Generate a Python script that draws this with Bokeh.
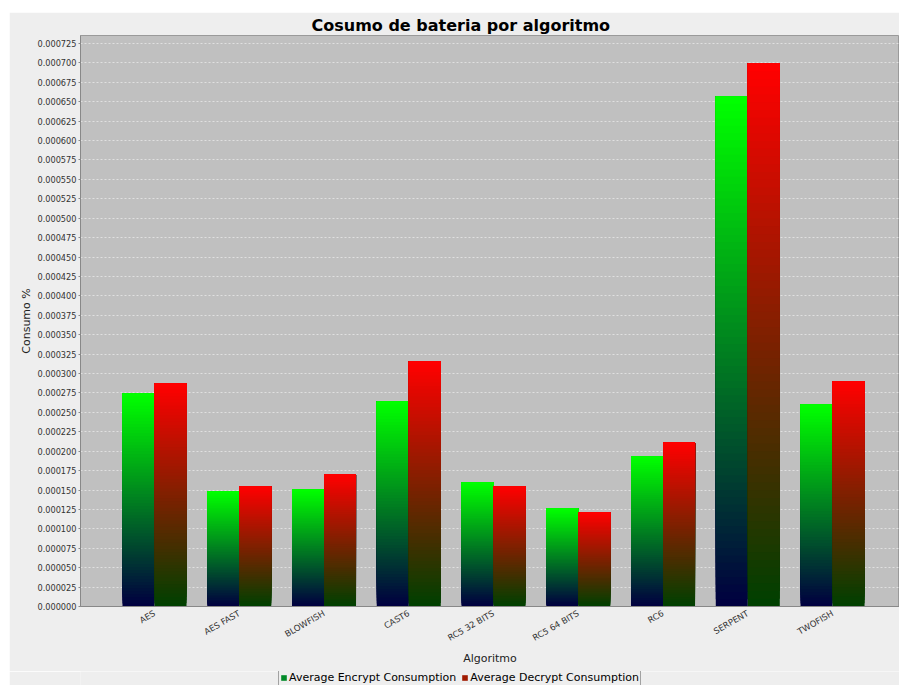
import math
from bokeh.plotting import figure
from bokeh.layouts import column
from bokeh.models import (Range1d, FixedTicker, SingleIntervalTicker, PrintfTickFormatter,
                          Legend, LegendItem, ColumnDataSource)
from bokeh.embed import file_html
from bokeh.resources import INLINE

# ---- data ----
algorithms = ["AES", "AES FAST", "BLOWFISH", "CAST6", "RC5 32 BITS",
              "RC5 64 BITS", "RC6", "SERPENT", "TWOFISH"]
encrypt = [0.0002743, 0.0001481, 0.0001507, 0.0002640, 0.0001597,
           0.0001262, 0.0001932, 0.0006567, 0.0002600]
decrypt = [0.0002872, 0.0001545, 0.0001700, 0.0003155, 0.0001545,
           0.0001210, 0.0002112, 0.0006993, 0.0002897]
series_names = ["Average Encrypt Consumption", "Average Decrypt Consumption"]
title_text = "Cosumo de bateria por algoritmo"
x_label = "Algoritmo"
y_label = "Consumo %"

# ---- styles ----
enc_top, enc_bottom = (0, 255, 0), (0, 0, 64)
dec_top, dec_bottom = (255, 0, 0), (0, 64, 0)
BAR_W = 0.3776
N_SLICES = 70
FONT = "DejaVu Sans"
PANEL = "#eeeeee"


def hexcol(c):
    return "#%02x%02x%02x" % tuple(int(round(v)) for v in c)


def lerp(a, b, t):
    return tuple(a[j] + (b[j] - a[j]) * t for j in range(3))


def gradient_source(values, offset, top_c, bottom_c):
    left, right, bottom, top, color = [], [], [], [], []
    for i, v in enumerate(values):
        for k in range(N_SLICES):
            t = k / (N_SLICES - 1)
            left.append(i + offset)
            right.append(i + offset + BAR_W)
            bottom.append(v * k / N_SLICES)
            top.append(v)
            color.append(hexcol(lerp(bottom_c, top_c, t)))
    return ColumnDataSource(dict(left=left, right=right, bottom=bottom, top=top, color=color))


p = figure(frame_width=819, frame_height=571, output_backend="svg", toolbar_location=None,
           x_range=Range1d(-0.873, 8.79), y_range=Range1d(0, 0.0007353),
           margin=(12, 0, 0, 9))
p.min_border_left = 71
p.min_border_right = 0
p.min_border_top = 23
p.min_border_bottom = 65

p.background_fill_color = "#c0c0c0"
p.border_fill_color = PANEL
p.outline_line_color = "#9a9a9a"

p.title.text = title_text
p.title.text_font = FONT
p.title.text_font_size = "16px"
p.title.text_font_style = "bold"
p.title.text_color = "#000000"
p.title.align = "left"
p.title.offset = 231
p.title.standoff = 2

src_e = gradient_source(encrypt, -BAR_W, enc_top, enc_bottom)
src_d = gradient_source(decrypt, 0.0, dec_top, dec_bottom)
p.quad(left="left", right="right", bottom="bottom", top="top", source=src_e,
       fill_color="color", line_color=None)
p.quad(left="left", right="right", bottom="bottom", top="top", source=src_d,
       fill_color="color", line_color=None)

# axes
p.xaxis.ticker = FixedTicker(ticks=list(range(len(algorithms))))
p.xaxis.major_label_overrides = {i: name for i, name in enumerate(algorithms)}
p.xaxis.major_label_orientation = math.pi / 6
p.xaxis.major_label_text_font = FONT
p.xaxis.major_label_text_font_size = "8.5px"
p.xaxis.major_label_text_color = "#333333"
p.xaxis.major_label_standoff = 0
p.xaxis.major_tick_line_color = None
p.xaxis.minor_tick_line_color = None
p.xaxis.axis_line_color = "#888888"
p.xaxis.axis_label = x_label
p.xaxis.axis_label_text_font = FONT
p.xaxis.axis_label_text_font_size = "11px"
p.xaxis.axis_label_text_font_style = "normal"
p.xaxis.axis_label_text_color = "#222222"
p.xaxis.axis_label_standoff = 2

p.yaxis.ticker = SingleIntervalTicker(interval=0.000025, num_minor_ticks=0)
p.yaxis.formatter = PrintfTickFormatter(format="%.6f")
p.yaxis.major_label_text_font = FONT
p.yaxis.major_label_text_font_size = "8.2px"
p.yaxis.major_label_text_color = "#333333"
p.yaxis.major_tick_out = 2
p.yaxis.major_tick_in = 0
p.yaxis.major_tick_line_color = "#888888"
p.yaxis.minor_tick_line_color = None
p.yaxis.axis_line_color = "#888888"
p.yaxis.major_label_standoff = 2
p.yaxis.axis_label = y_label
p.yaxis.axis_label_text_font = FONT
p.yaxis.axis_label_text_font_size = "11px"
p.yaxis.axis_label_text_font_style = "normal"
p.yaxis.axis_label_text_color = "#222222"
p.yaxis.axis_label_standoff = 1

p.xgrid.grid_line_color = None
p.ygrid.grid_line_color = "#ffffff"
p.ygrid.grid_line_alpha = 0.5
p.ygrid.grid_line_dash = "2 2"
p.ygrid.grid_line_width = 1

# ---- legend strip below the chart ----
lg = figure(width=890, height=14, output_backend="svg", toolbar_location=None,
            x_range=Range1d(0, 1), y_range=Range1d(0, 1), margin=(0, 0, 0, 9))
lg.min_border_left = 0
lg.min_border_right = 0
lg.min_border_top = 0
lg.min_border_bottom = 0
lg.axis.visible = False
lg.grid.grid_line_color = None
lg.outline_line_color = None
lg.background_fill_color = PANEL
lg.border_fill_color = PANEL

r_e = lg.quad(left=[0], right=[0], bottom=[0], top=[0], fill_color="#008a28", line_color=None)
r_d = lg.quad(left=[0], right=[0], bottom=[0], top=[0], fill_color="#a01a00", line_color=None)
legend = Legend(items=[LegendItem(label=series_names[0], renderers=[r_e]),
                       LegendItem(label=series_names[1], renderers=[r_d])],
                orientation="horizontal", location=(198, -1))
legend.label_text_font = FONT
legend.label_text_font_size = "11px"
legend.label_text_color = "#000000"
legend.glyph_width = 7
legend.glyph_height = 7
legend.label_standoff = 2
legend.spacing = 5
legend.padding = 1
legend.margin = 0
legend.label_height = 11
legend.border_line_color = "#555555"
legend.background_fill_color = PANEL
legend.background_fill_alpha = 1
lg.add_layout(legend, "center")

layout = column(p, lg, spacing=0)
open("out.html", "w").write(file_html(layout, INLINE))
